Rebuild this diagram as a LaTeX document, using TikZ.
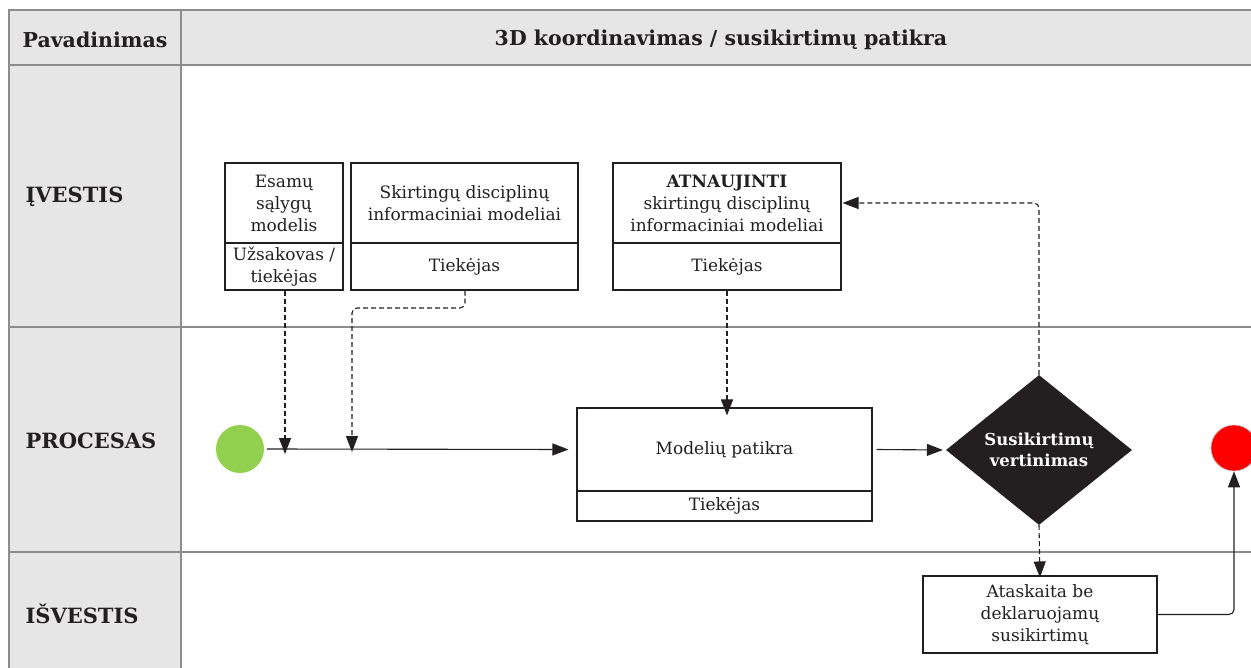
\documentclass[tikz,border=0pt]{standalone}
\usepackage{fontspec}
\setmainfont{DejaVu Serif}
\usetikzlibrary{arrows.meta,shapes.geometric}
\definecolor{gridline}{HTML}{8C8C8C}
\definecolor{band}{HTML}{E6E6E6}
\definecolor{ink}{HTML}{231F20}
\definecolor{startgreen}{HTML}{92D050}
\definecolor{endred}{HTML}{FF0000}
\begin{document}
\begin{tikzpicture}[x=1pt,y=-1pt,
  every node/.style={font=\fontsize{17}{22}\selectfont, text=ink},
  tip/.style={-{Triangle[length=16pt,width=12pt]}},
  flow/.style={draw=ink, line width=1.1pt, tip},
  dflow/.style={flow, dash pattern=on 5pt off 3pt},
  cell/.style={draw=ink, line width=1.1pt, inner sep=2pt, align=center},
  lanelabel/.style={anchor=west, font=\fontsize{21}{24}\selectfont\bfseries},
  headlabel/.style={font=\fontsize{20.5}{24}\selectfont\bfseries}
]
\useasboundingbox (0,0) rectangle (1251,668);

% table background and bands
\fill[band] (9,10) rectangle (1251,65);
\fill[band] (9,65) rectangle (181,668);
\draw[gridline, line width=1.3pt] (9,668) -- (9,10) -- (1251,10);
\draw[gridline, line width=1.3pt] (9,65) -- (1251,65);
\draw[gridline, line width=1.3pt] (181,10) -- (181,668);
\draw[gridline, line width=1.3pt] (9,327) -- (1251,327);
\draw[gridline, line width=1.3pt] (9,552) -- (1251,552);

% header and lane labels
\node[headlabel] (hname) at (95,40) {Pavadinimas};
\node[headlabel] (htitle) at (721,40) {3D koordinavimas / susikirtimų patikra};
\node[lanelabel] (lin) at (22,197) {ĮVESTIS};
\node[lanelabel] (lproc) at (22,441) {PROCESAS};
\node[lanelabel] (lout) at (22,614) {IŠVESTIS};

% input boxes
\node[cell, minimum width=118, minimum height=80] (a1) at (284,203) {Esamų\\sąlygų\\modelis};
\node[cell, minimum width=118, minimum height=47] (a2) at (284,266.5) {Užsakovas /\\tiekėjas};
\node[cell, minimum width=227, minimum height=80] (b1) at (464.5,203) {Skirtingų disciplinų\\informaciniai modeliai};
\node[cell, minimum width=227, minimum height=47] (b2) at (464.5,266.5) {Tiekėjas};
\node[cell, minimum width=228, minimum height=80] (c1) at (727,203) {\textbf{ATNAUJINTI}\\skirtingų disciplinų\\informaciniai modeliai};
\node[cell, minimum width=228, minimum height=47] (c2) at (727,266.5) {Tiekėjas};

% process
\node[circle, fill=startgreen, minimum size=48, inner sep=0] (start) at (240,449) {};
\node[cell, minimum width=295, minimum height=83] (m1) at (724.5,449.5) {Modelių patikra};
\node[cell, minimum width=295, minimum height=30] (m2) at (724.5,506) {Tiekėjas};
\node[diamond, fill=ink, minimum width=186, minimum height=150, inner sep=0,
      text=white, align=center, font=\fontsize{16.5}{21}\selectfont\bfseries] (dec) at (1039,450)
      {Susikirtimų\\vertinimas};
\node[circle, fill=endred, draw=gridline!60, line width=0.6pt, minimum size=46, inner sep=0] (stop) at (1234,448) {};

% output
\node[cell, minimum width=234, minimum height=77] (rep) at (1040,614.5) {Ataskaita be\\deklaruojamų\\susikirtimų};

% connectors
\coordinate (joinA) at (285,449);
\coordinate (joinB) at (352,449);
\draw[flow] ([xshift=3pt]start.east) -- ([xshift=-8pt]m1.west);
\draw[dflow] (a2.south -| joinA) -- ([yshift=-5pt]joinA);
\draw[dflow, rounded corners=5pt] ([xshift=0.5pt]b2.south) -- (465,308) -- (352,308) -- ([yshift=-3pt]joinB);
\draw[dflow] (c2.south) -- ([yshift=-8pt]m1.north -| c2.south);
\draw[flow] ([xshift=4pt]m1.east) -- ([xshift=-3pt]dec.west);
\draw[dflow, rounded corners=5pt] (dec.north) -- (dec.north |- c1.east) -- ([xshift=1pt]c1.east);
\draw[dflow] (dec.south) -- ([yshift=-2pt]rep.north);
\draw[flow, rounded corners=5pt] (rep.east) -- (rep.east -| stop.south) -- (stop.south);
\end{tikzpicture}
\end{document}
